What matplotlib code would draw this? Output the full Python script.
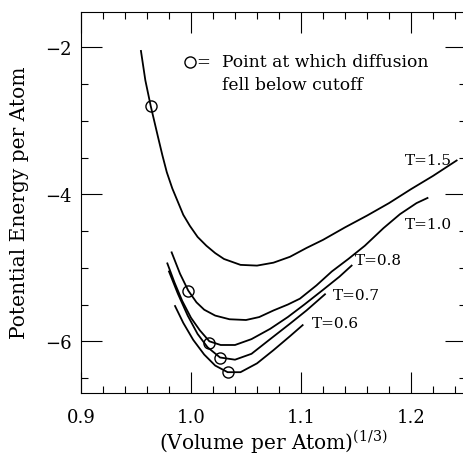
import numpy as np
import matplotlib
matplotlib.use("Agg")
import matplotlib.pyplot as plt
from matplotlib.ticker import MultipleLocator

plt.rcParams['font.family'] = 'DejaVu Serif'
plt.rcParams['mathtext.fontset'] = 'dejavuserif'

# curves: (Volume per Atom)^(1/3) vs potential energy
x_15 = [0.9545, 0.9585, 0.9634, 0.970, 0.974, 0.978, 0.983, 0.988, 0.993, 0.999, 1.006,
        1.014, 1.022, 1.030, 1.045, 1.060, 1.075, 1.090, 1.105, 1.120, 1.140, 1.160,
        1.180, 1.200, 1.220, 1.2415]
y_15 = [-2.05, -2.45, -2.80, -3.22, -3.47, -3.70, -3.92, -4.10, -4.28, -4.43, -4.58,
        -4.70, -4.80, -4.88, -4.96, -4.97, -4.93, -4.85, -4.73, -4.62, -4.45, -4.29,
        -4.12, -3.93, -3.75, -3.54]

x_10 = [0.9824, 0.990, 0.9975, 1.005, 1.012, 1.022, 1.035, 1.050, 1.062, 1.075, 1.088,
        1.099, 1.114, 1.128, 1.143, 1.158, 1.175, 1.190, 1.205, 1.215]
y_10 = [-4.79, -5.08, -5.31, -5.47, -5.57, -5.65, -5.70, -5.71, -5.67, -5.58, -5.50,
        -5.42, -5.24, -5.05, -4.88, -4.70, -4.46, -4.27, -4.12, -4.05]

x_08 = [0.9785, 0.985, 0.992, 1.000, 1.008, 1.0167, 1.027, 1.040, 1.055, 1.072, 1.088,
        1.103, 1.120, 1.135, 1.146]
y_08 = [-4.94, -5.20, -5.45, -5.68, -5.85, -6.00, -6.05, -6.05, -5.97, -5.83, -5.67,
        -5.50, -5.30, -5.12, -4.97]

x_07 = [0.980, 0.988, 0.997, 1.006, 1.015, 1.0264, 1.040, 1.055, 1.072, 1.090, 1.105, 1.1218]
y_07 = [-5.05, -5.35, -5.65, -5.90, -6.08, -6.22, -6.25, -6.17, -5.97, -5.76, -5.58, -5.36]

x_06 = [0.9855, 0.993, 1.002, 1.012, 1.022, 1.0333, 1.045, 1.060, 1.075, 1.090, 1.1015]
y_06 = [-5.52, -5.75, -5.98, -6.18, -6.33, -6.42, -6.42, -6.30, -6.12, -5.93, -5.78]

# points where diffusion fell below cutoff
cut_x = [0.9634, 0.9975, 1.0167, 1.0264, 1.0333]
cut_y = [-2.80, -5.31, -6.02, -6.23, -6.42]

labels = ['T=1.5', 'T=1.0', 'T=0.8', 'T=0.7', 'T=0.6']
label_x = [1.1945, 1.1945, 1.149, 1.129, 1.1097]
label_y = [-3.54, -4.40, -4.90, -5.37, -5.75]

fig = plt.figure(figsize=(4.64, 4.56), dpi=100)
ax = fig.add_axes([81 / 464, (456 - 393.7) / 456, 385 / 464, 381 / 456])

for xs, ys in [(x_15, y_15), (x_10, y_10), (x_08, y_08), (x_07, y_07), (x_06, y_06)]:
    ax.plot(xs, ys, color='black', lw=1.3)
ax.plot(cut_x, cut_y, 'o', mfc='none', mec='black', ms=8, mew=1.0)

for t, lx, ly in zip(labels, label_x, label_y):
    ax.text(lx, ly, t, fontsize=11, va='center', ha='left')

# legend-ish note
ax.plot([0.9991], [-2.20], 'o', mfc='none', mec='black', ms=8, mew=1.0)
ax.text(1.0115, -2.20, '=', fontsize=12, va='center', ha='center')
ax.text(1.0282, -2.20, 'Point at which diffusion', fontsize=12.3, va='center', ha='left')
ax.text(1.0282, -2.50, 'fell below cutoff', fontsize=12.3, va='center', ha='left')

ax.set_xlim(0.9, 1.25)
ax.set_ylim(-6.699, -1.516)
ax.xaxis.set_major_locator(MultipleLocator(0.1))
ax.xaxis.set_minor_locator(MultipleLocator(0.02))
ax.yaxis.set_major_locator(MultipleLocator(2))
ax.yaxis.set_minor_locator(MultipleLocator(0.5))
ax.set_xticks([0.9, 1.0, 1.1, 1.2])
ax.set_xticklabels(['0.9', '1.0', '1.1', '1.2'])
ax.set_yticks([-2, -4, -6])
ax.set_yticklabels(['\u22122', '\u22124', '\u22126'])
ax.tick_params(which='both', direction='in', top=True, right=True, width=0.8, labelsize=13)
ax.tick_params(which='major', length=15)
ax.tick_params(which='minor', length=5)
ax.tick_params(axis='x', pad=11)
ax.tick_params(axis='y', pad=7)
for s in ax.spines.values():
    s.set_linewidth(0.8)

ax.set_xlabel(r'(Volume per Atom)$^{(1/3)}$', fontsize=14.5, labelpad=1)
ax.set_ylabel('Potential Energy per Atom', fontsize=14.5, labelpad=11)

fig.savefig('out.png', dpi=100)
